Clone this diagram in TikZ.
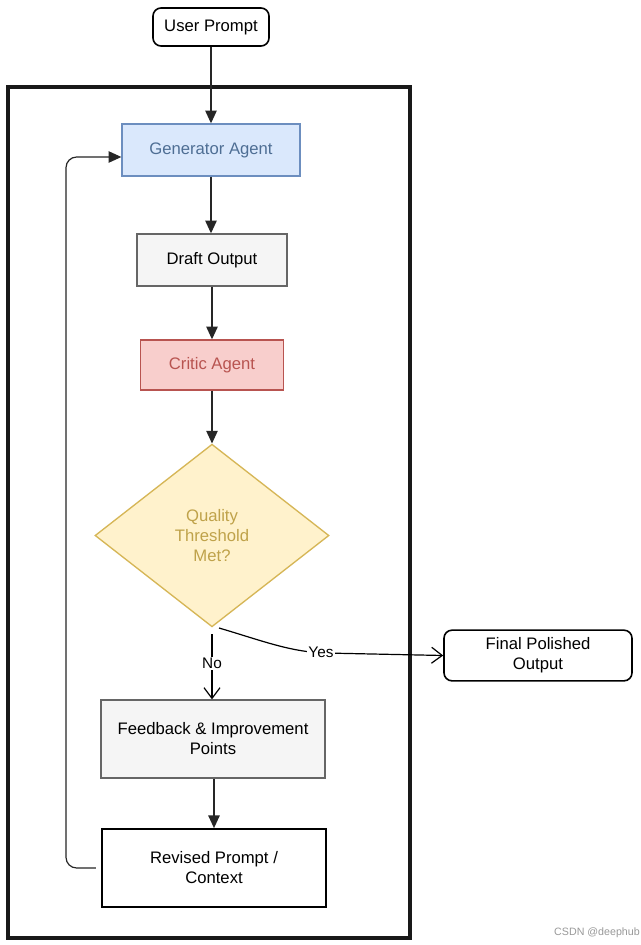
\documentclass[tikz,border=0pt]{standalone}
\usepackage{fontspec}
\setmainfont{Liberation Sans}
\usetikzlibrary{arrows.meta,shapes.geometric}
\definecolor{genfill}{HTML}{DAE8FC}
\definecolor{genline}{HTML}{6C8EBF}
\definecolor{gentext}{HTML}{4E6E94}
\definecolor{greyfill}{HTML}{F5F5F5}
\definecolor{greyline}{HTML}{666666}
\definecolor{redfill}{HTML}{F8CECC}
\definecolor{redline}{HTML}{B85450}
\definecolor{yelfill}{HTML}{FFF2CC}
\definecolor{yelline}{HTML}{D6B656}
\definecolor{yeltext}{HTML}{BFA24A}
\tikzset{
  box/.style={draw, line width=1pt, minimum height=#1, align=center, font=\fontsize{12.5}{15}\selectfont, inner sep=2pt},
  box/.default=39pt,
  roundbox/.style={box, rounded corners=6pt, line width=1.2pt},
  arr/.style={-{Triangle[length=9.5pt,width=8.5pt]}, line width=1.1pt, draw=black!85},
  openarr/.style={-{Straight Barb[length=8pt,width=12pt]}, line width=0.9pt},
  lbl/.style={fill=white, inner sep=1pt, font=\fontsize{11.5}{13}\selectfont}
}
\begin{document}
\begin{tikzpicture}[x=0.75pt,y=-0.75pt]
\useasboundingbox (0,0) rectangle (640,945);
\fill[white] (0,0) rectangle (640,945);
% outer frame
\draw[line width=2.4pt, draw=black!90] (8,87) rectangle (410,938);
% nodes
\node[roundbox, minimum width=87pt, minimum height=28.5pt] (user) at (211,27) {User Prompt};
\node[box, fill=genfill, draw=genline, text=gentext, minimum width=133.5pt] (gen) at (211,150) {Generator Agent};
\node[box, fill=greyfill, draw=greyline, minimum width=112.5pt] (draft) at (212,260) {Draft Output};
\node[box, fill=redfill, draw=redline, text=redline, minimum width=107pt, minimum height=37.5pt] (critic) at (212,365) {Critic Agent};
\node[diamond, draw=yelline, fill=yelfill, text=yeltext, line width=1pt, minimum width=175.5pt, minimum height=137pt, inner sep=0pt, align=center, font=\fontsize{12.5}{15}\selectfont] (dec) at (212,535.5) {Quality\\Threshold\\Met?};
\node[roundbox, minimum width=141pt, minimum height=38pt] (final) at (538,655.5) {Final Polished\\Output};
\node[box, fill=greyfill, draw=greyline, minimum width=168pt, minimum height=58.5pt] (feed) at (213,739) {Feedback \& Improvement\\Points};
\node[box, line width=1.3pt, minimum width=168pt, minimum height=58.5pt] (rev) at (214,868) {Revised Prompt /\\Context};
% connectors
\draw[arr] (user.south) -- (gen.north);
\draw[arr] (gen.south) -- (gen.south |- draft.north);
\draw[arr] (draft.south -| critic.north) -- (critic.north);
\draw[arr] (critic.south) -- (critic.south |- dec.north);
\draw[openarr] ([yshift=-5pt]dec.south) -- node[lbl, pos=0.45] {No} (dec.south |- feed.north);
\coordinate (ys) at (219,628);
\draw[openarr] (ys) .. controls (260,640) and (290,652) .. (325,653) -- (final.west);
\node[lbl] (yes) at (321,652) {Yes};
\draw[arr] (feed.south -| rev.north) -- (rev.north);
\coordinate (c1) at (66,868);
\coordinate (c2) at (66,157);
\draw[arr, rounded corners=8pt, line width=0.9pt] ([xshift=-4pt]rev.west) -- (c1) -- (c2) -- (gen.west |- c2);
% watermark
\node[text=black!40, font=\fontsize{8}{9}\selectfont, inner sep=0pt] (wm) at (597,933) {CSDN @deephub};
\end{tikzpicture}
\end{document}
